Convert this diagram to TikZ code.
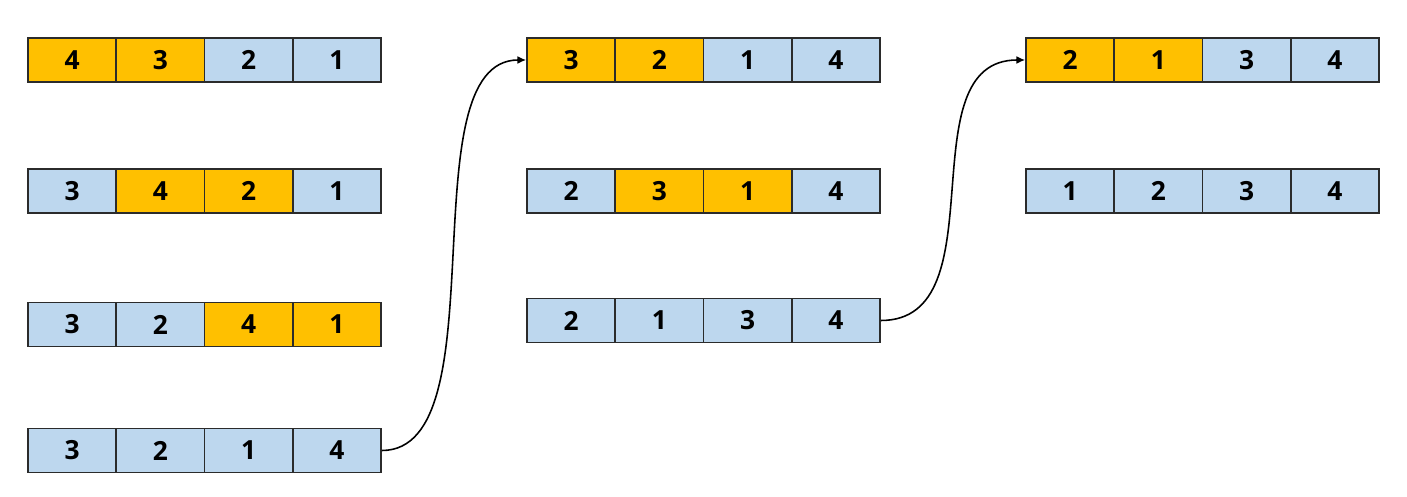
\documentclass[tikz,border=0pt]{standalone}
\usepackage{fontspec}
\setmainfont{Open Sans}
\usepackage{xcolor}
\usepackage{tikz}
\usetikzlibrary{arrows.meta}
\definecolor{hotc}{HTML}{FFC000}
\definecolor{coolc}{HTML}{BDD7EE}
\definecolor{edgec}{HTML}{2B2B2B}
\tikzstyle{cell} = [rectangle, draw=edgec, line width=0.9pt, minimum width=1.765cm, minimum height=0.88cm, inner sep=0pt, font=\fontsize{15}{17}\selectfont\bfseries]
\tikzstyle{pass} = [-{Latex[length=5pt,width=4.5pt]}, line width=0.9pt, black]

\begin{document}
\begin{tikzpicture}
    \useasboundingbox (0,0) rectangle (28.14,-9.94);
    % First pass
    \foreach \v/\c [count=\i] in {4/hotc,3/hotc,2/coolc,1/coolc}
        \node[cell, fill=\c] (a\i) at ({0.56+1.765*(\i-0.5)},-1.2) {\v};
    \foreach \v/\c [count=\i] in {3/coolc,4/hotc,2/hotc,1/coolc}
        \node[cell, fill=\c] (b\i) at ({0.56+1.765*(\i-0.5)},-3.82) {\v};
    \foreach \v/\c [count=\i] in {3/coolc,2/coolc,4/hotc,1/hotc}
        \node[cell, fill=\c] (c\i) at ({0.56+1.765*(\i-0.5)},-6.49) {\v};
    \foreach \v/\c [count=\i] in {3/coolc,2/coolc,1/coolc,4/coolc}
        \node[cell, fill=\c] (d\i) at ({0.56+1.765*(\i-0.5)},-9.01) {\v};

    % Second pass
    \foreach \v/\c [count=\i] in {3/hotc,2/hotc,1/coolc,4/coolc}
        \node[cell, fill=\c] (e\i) at ({10.54+1.765*(\i-0.5)},-1.2) {\v};
    \foreach \v/\c [count=\i] in {2/coolc,3/hotc,1/hotc,4/coolc}
        \node[cell, fill=\c] (f\i) at ({10.54+1.765*(\i-0.5)},-3.82) {\v};
    \foreach \v/\c [count=\i] in {2/coolc,1/coolc,3/coolc,4/coolc}
        \node[cell, fill=\c] (g\i) at ({10.54+1.765*(\i-0.5)},-6.41) {\v};

    % Third pass
    \foreach \v/\c [count=\i] in {2/hotc,1/hotc,3/coolc,4/coolc}
        \node[cell, fill=\c] (h\i) at ({20.52+1.765*(\i-0.5)},-1.2) {\v};
    \foreach \v/\c [count=\i] in {1/coolc,2/coolc,3/coolc,4/coolc}
        \node[cell, fill=\c] (k\i) at ({20.52+1.765*(\i-0.5)},-3.82) {\v};

    % Passes
    \draw[pass] (d4.east) .. controls +(2.4,0) and +(-2.4,0) .. (e1.west);
    \draw[pass] (g4.east) .. controls +(2.4,0) and +(-2.4,0) .. (h1.west);
\end{tikzpicture}
\end{document}
